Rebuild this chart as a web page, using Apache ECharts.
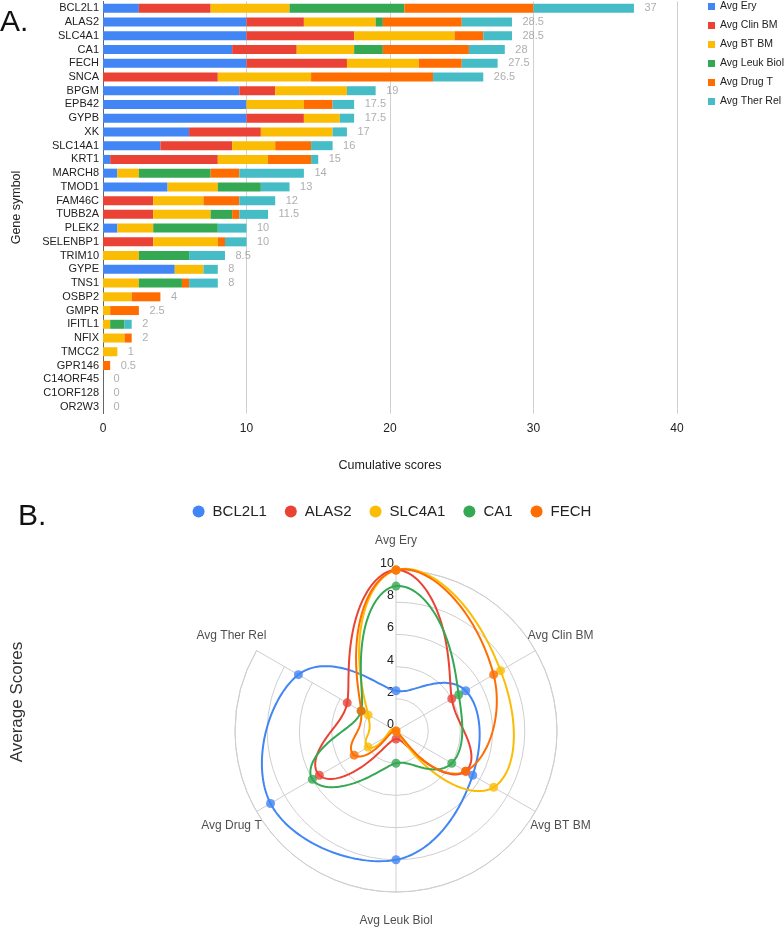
<!DOCTYPE html>
<html><head><meta charset="utf-8">
<script src="https://cdn.jsdelivr.net/npm/echarts@6/dist/echarts.min.js"></script>
<style>html,body{margin:0;padding:0;background:#fff}#c{width:784px;height:929px}</style>
</head><body><div id="c"></div>
<script>
const genes = ['BCL2L1','ALAS2','SLC4A1','CA1','FECH','SNCA','BPGM','EPB42','GYPB','XK','SLC14A1','KRT1','MARCH8','TMOD1','FAM46C','TUBB2A','PLEK2','SELENBP1','TRIM10','GYPE','TNS1','OSBP2','GMPR','IFITL1','NFIX','TMCC2','GPR146','C14ORF45','C1ORF128','OR2W3'];
const scoreNames = ['Avg Ery','Avg Clin BM','Avg BT BM','Avg Leuk Biol','Avg Drug T','Avg Ther Rel'];
const avgEry      = [2.5,10,10,9,10,0,9.5,10,10,6,4,0.5,1,4.5,0,0,1,0,0,5,0,0,0,0,0,0,0,0,0,0];
const avgClinBM   = [5,4,7.5,4.5,7,8,2.5,0,4,5,5,7.5,0,0,3.5,3.5,0,3.5,0,0,0,0,0,0,0,0,0,0,0,0];
const avgBTBM     = [5.5,5,7,4,5,6.5,5,4,2.5,5,3,3.5,1.5,3.5,3.5,4,2.5,4.5,2.5,2,2.5,2,0.5,0.5,1.5,1,0,0,0,0];
const avgLeukBiol = [8,0.5,0,2,0,0,0,0,0,0,0,0,5,3,0,1.5,4.5,0,3.5,0,3,0,0,1,0,0,0,0,0,0];
const avgDrugT    = [9,5.5,2,6,3,8.5,0,2,0,0,2.5,3,2,0,2.5,0.5,0,0.5,0,0,0.5,2,2,0,0.5,0,0.5,0,0,0];
const avgTherRel  = [7,3.5,2,2.5,2.5,3.5,2,1.5,1,1,1.5,0.5,4.5,2,2.5,2,2,1.5,2.5,1,2,0,0,0.5,0,0,0,0,0,0];
const radarGenes = ['BCL2L1','ALAS2','SLC4A1','CA1','FECH'];

const barColors = ['#4285F4','#EA4335','#FBBC04','#34A853','#FF6D01','#46BDC6'];
const radarColors = ['#4285F4','#EA4335','#FBBC04','#34A853','#FF6D01'];
const FONT = '"Liberation Sans", Arial, Helvetica, sans-serif';

const scoreSeries = [avgEry, avgClinBM, avgBTBM, avgLeukBiol, avgDrugT, avgTherRel];
const totals = genes.map((g,i)=>scoreSeries.reduce((s,a)=>s+a[i],0));

const chart = echarts.init(document.getElementById('c'), null, {renderer:'canvas'});
const series = [];
scoreNames.forEach((n,k)=>{
  series.push({type:'bar', name:n, stack:'s', data:scoreSeries[k], barWidth:9,
    itemStyle:{color:barColors[k]}, emphasis:{disabled:true}});
});
series.push({type:'scatter', name:'total', data:totals.map((t,i)=>[t,genes[i]]), symbolSize:1,
  itemStyle:{color:'rgba(0,0,0,0)'}, silent:true, z:5,
  label:{show:true, position:'right', distance:10, color:'#9a9a9a', fontSize:11, fontFamily:FONT,
    formatter:p=>String(p.value[0])}});

// smooth closed curve through the polar data points (mix of radial and screen-space Catmull-Rom)
const POLAR_W = 0.55;
function makeCurve(color){
  return function(params, api){
    const n = params.dataInsideLength;
    const i = params.dataIndexInside;
    const wrap = d => ((d % n) + n) % n;
    const R = d => api.value(0, wrap(d));
    const P = d => api.coord([R(d), api.value(1, wrap(d))]);
    const c = api.coord([0, api.value(1, wrap(i))]);
    const ref = d => api.coord([10, api.value(1, wrap(d))]);
    const e1 = ref(i), e2 = ref(i+1);
    const a1 = Math.atan2(e1[1]-c[1], e1[0]-c[0]);
    let a2 = Math.atan2(e2[1]-c[1], e2[0]-c[0]);
    while (a2 - a1 > Math.PI) a2 -= 2*Math.PI;
    while (a2 - a1 < -Math.PI) a2 += 2*Math.PI;
    const unit = Math.hypot(e1[0]-c[0], e1[1]-c[1]) / 10;
    const r0 = R(i), r1 = R(i+1);
    const m0 = (R(i+1) - R(i-1)) / 2, m1 = (R(i+2) - R(i)) / 2;
    const q0 = P(i-1), q1 = P(i), q2 = P(i+1), q3 = P(i+2);
    const b1 = [q1[0]+(q2[0]-q0[0])/6, q1[1]+(q2[1]-q0[1])/6];
    const b2 = [q2[0]-(q3[0]-q1[0])/6, q2[1]-(q3[1]-q1[1])/6];
    const pts = [];
    const N = 40;
    for (let s = 0; s <= N; s++) {
      const t = s / N, t2 = t*t, t3 = t2*t, u = 1 - t;
      const r = (2*t3-3*t2+1)*r0 + (t3-2*t2+t)*m0 + (-2*t3+3*t2)*r1 + (t3-t2)*m1;
      const a = a1 + (a2 - a1) * t;
      const px = c[0] + r*unit*Math.cos(a), py = c[1] + r*unit*Math.sin(a);
      const bx = u*u*u*q1[0] + 3*u*u*t*b1[0] + 3*u*t*t*b2[0] + t3*q2[0];
      const by = u*u*u*q1[1] + 3*u*u*t*b1[1] + 3*u*t*t*b2[1] + t3*q2[1];
      pts.push([POLAR_W*px + (1-POLAR_W)*bx, POLAR_W*py + (1-POLAR_W)*by]);
    }
    return {type:'polyline', silent:true, shape:{points:pts},
      style:{stroke:color, lineWidth:2, fill:null, lineJoin:'round'}};
  };
}
radarGenes.forEach((g,k)=>{
  const gi = genes.indexOf(g);
  const vals = scoreSeries.map(a=>a[gi]);
  series.push({type:'custom', coordinateSystem:'polar', name:g, data:vals.map((v,j)=>[v,j]),
    itemStyle:{color:radarColors[k]}, renderItem:makeCurve(radarColors[k]), silent:true, z:3});
  series.push({type:'scatter', coordinateSystem:'polar', name:g, data:vals.map((v,j)=>[v,scoreNames[j]]),
    symbol:'circle', symbolSize:9, itemStyle:{color:radarColors[k]}, clip:false, silent:true, z:3});
});
series.push({type:'scatter', coordinateSystem:'polar', name:'axisNames', data:scoreNames.map(n=>[11.8,n]),
  symbolSize:0, clip:false, silent:true,
  label:{show:true, position:'inside', color:'#222', fontSize:12, fontFamily:FONT, formatter:p=>p.value[1]}});

chart.setOption({
  animation:false,
  backgroundColor:'#fff',
  textStyle:{fontFamily:FONT},
  grid:{left:103, right:107, top:1.4, height:412.2, outerBoundsMode:'none', containLabel:false},
  xAxis:{type:'value', min:0, max:40, interval:10,
    axisLine:{show:false}, axisTick:{show:false},
    axisLabel:{color:'#222', fontSize:12, margin:9, fontFamily:FONT},
    splitLine:{show:true, lineStyle:{color:'#d0d0d0'}},
    name:'Cumulative scores', nameLocation:'middle', nameGap:45,
    nameTextStyle:{color:'#222', fontSize:12.5, fontFamily:FONT}},
  yAxis:{type:'category', data:genes, inverse:true,
    axisLine:{show:true, lineStyle:{color:'#666'}}, axisTick:{show:false},
    axisLabel:{color:'#222', fontSize:11, margin:4, interval:0, fontFamily:FONT},
    name:'Gene symbol', nameLocation:'middle', nameGap:80, nameRotate:90,
    nameTextStyle:{color:'#222', fontSize:12.5, fontFamily:FONT}},
  polar:{center:[396,731], radius:161},
  angleAxis:{type:'category', data:scoreNames, startAngle:90, clockwise:true, boundaryGap:false,
    axisLine:{show:true, lineStyle:{color:'#cfcfcf'}}, axisTick:{show:false}, axisLabel:{show:false},
    splitLine:{show:true, lineStyle:{color:'#cfcfcf'}}},
  radiusAxis:{type:'value', min:0, max:10, interval:2,
    axisLine:{show:false}, axisTick:{show:false},
    axisLabel:{color:'#222', fontSize:12.5, margin:2, verticalAlign:'bottom', fontFamily:FONT},
    splitLine:{show:true, lineStyle:{color:'#cfcfcf'}}},
  legend:[
    {data:scoreNames, orient:'vertical', left:708, top:1, padding:0, itemWidth:7, itemHeight:7, itemGap:8,
      icon:'rect', selectedMode:false, textStyle:{fontSize:10.5, color:'#222', fontFamily:FONT}},
    {data:radarGenes, orient:'horizontal', left:'center', top:504, padding:0, itemWidth:12, itemHeight:12, itemGap:18,
      icon:'circle', selectedMode:false, textStyle:{fontSize:15, color:'#222', fontFamily:FONT, padding:[0,0,0,3]}}
  ],
  graphic:[
    {type:'text', left:0, top:8, style:{text:'A.', font:'30px '+FONT, fill:'#111'}},
    {type:'text', left:18, top:502, style:{text:'B.', font:'30px '+FONT, fill:'#111'}},
    {type:'text', x:17, y:702, rotation:Math.PI/2,
      style:{text:'Average Scores', font:'17px '+FONT, fill:'#333', align:'center', verticalAlign:'middle'}}
  ],
  series:series
});
</script></body></html>
